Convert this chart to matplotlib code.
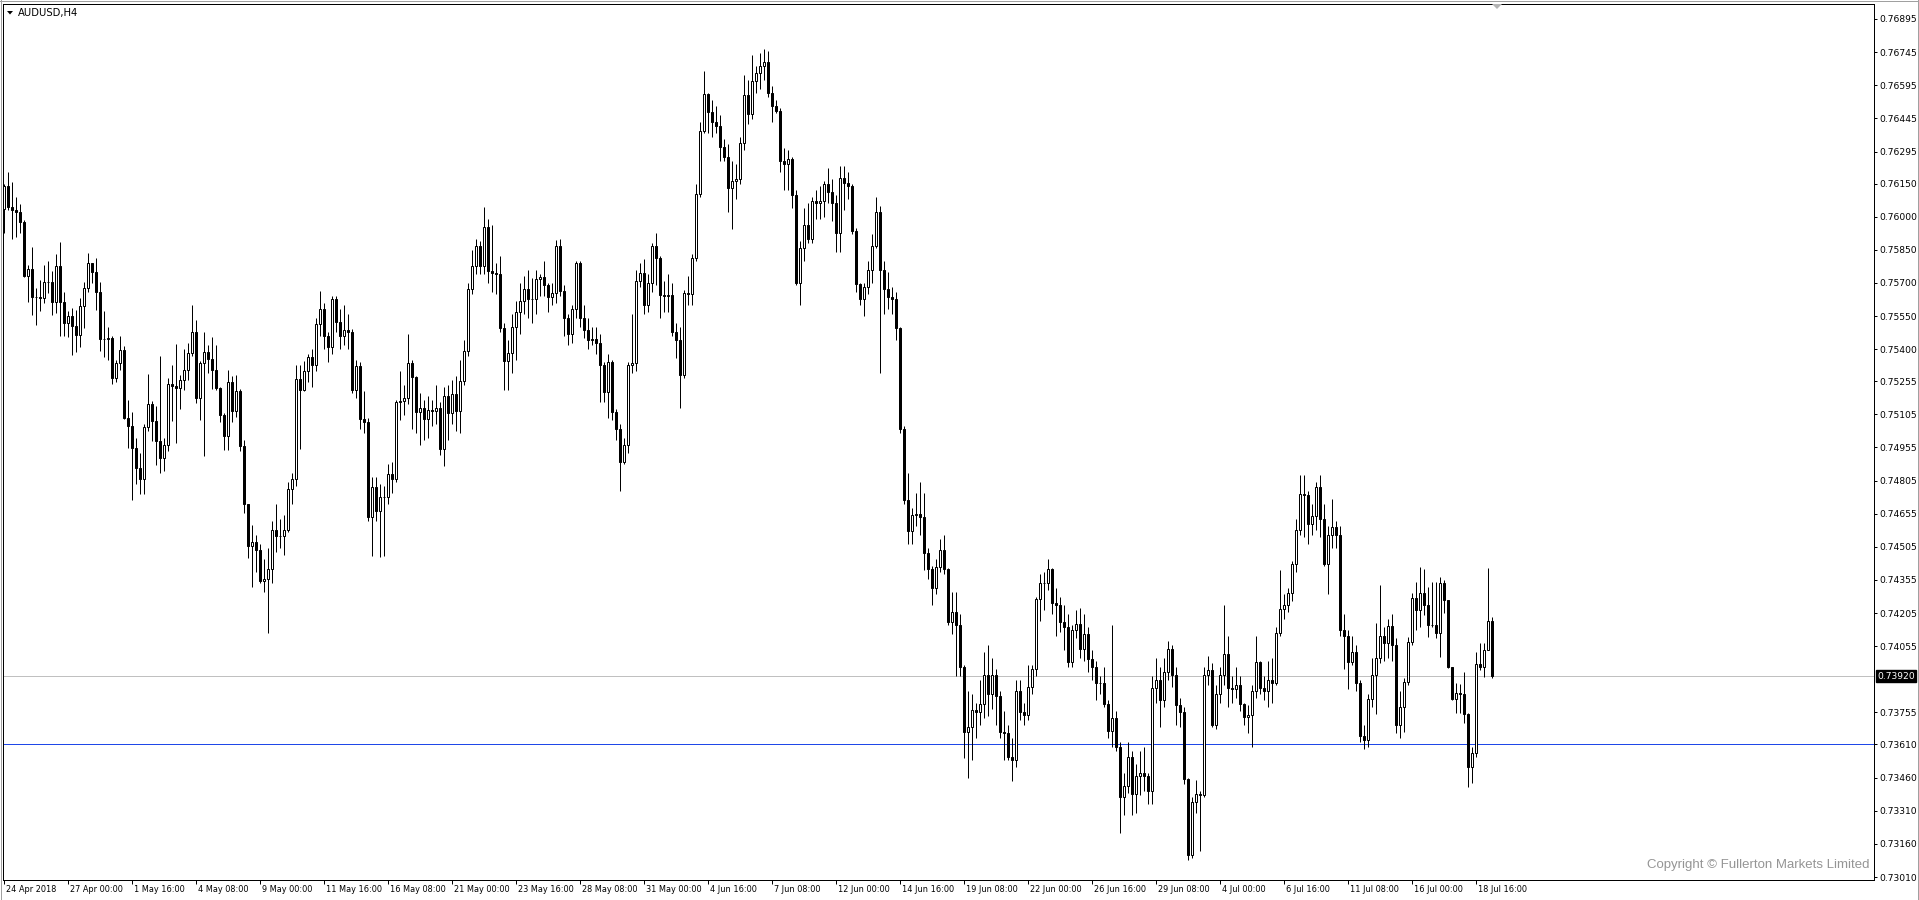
import matplotlib
matplotlib.use("Agg")
import matplotlib.pyplot as plt
from matplotlib.patches import Polygon
import matplotlib.transforms as mtransforms
from matplotlib.lines import Line2D

# ---------------- data (prices in points, 1 point = 0.00001) ----------------
symbol_title = "AUDUSD,H4"
copyright_text = "Copyright \u00a9 Fullerton Markets Limited"

opens = [
    76035, 76139, 76044, 76030, 76021, 75976, 75731, 75763, 75636, 75638,
    75630, 75704, 75702, 75614, 75777, 75614, 75518, 75550, 75505, 75464,
    75595, 75677, 75790, 75750, 75659, 75446, 75448, 75451, 75270, 75337,
    75396, 75088, 75052, 74952, 74862, 74812, 75047, 75150, 75075, 74984,
    74906, 74966, 75243, 75234, 75225, 75261, 75306, 75383, 75478, 75180,
    75337, 75387, 75356, 75306, 75225, 75102, 75007, 75252, 75120, 75211,
    74962, 74700, 74509, 74527, 74490, 74351, 74360, 74404, 74580, 74554,
    74556, 74580, 74765, 74810, 75267, 75214, 75302, 75364, 75330, 75514,
    75584, 75461, 75408, 75628, 75522, 75461, 75487, 75478, 75214, 75324,
    75082, 75070, 74642, 74777, 74668, 74730, 74730, 74835, 74810, 75161,
    75165, 75180, 75337, 75276, 75117, 75135, 75082, 75126, 75120, 75135,
    74950, 75190, 75110, 75196, 75120, 75258, 75390, 75672, 75778, 75866,
    75778, 75954, 75752, 75743, 75740, 75496, 75346, 75381, 75500, 75567,
    75620, 75672, 75628, 75625, 75716, 75725, 75690, 75637, 75655, 75866,
    75664, 75540, 75470, 75584, 75792, 75540, 75487, 75443, 75448, 75430,
    75330, 75205, 75340, 75117, 75038, 74888, 74967, 75329, 75337, 75708,
    75743, 75602, 75700, 75866, 75813, 75646, 75640, 75646, 75478, 75443,
    75284, 75655, 75650, 75813, 76104, 76386, 76557, 76474, 76430, 76412,
    76315, 76271, 76130, 76160, 76170, 76333, 76553, 76465, 76615, 76650,
    76680, 76700, 76560, 76500, 76480, 76250, 76240, 76261, 76100, 75700,
    75860, 75960, 75900, 76070, 76060, 76070, 76150, 76110, 76060, 75925,
    76177, 76153, 76141, 75937, 75693, 75625, 75680, 75757, 75865, 76021,
    75757, 75674, 75637, 75626, 75494, 75038, 74719, 74576, 74650, 74655,
    74640, 74475, 74403, 74319, 74415, 74490, 74403, 74163, 74212, 74150,
    73960, 73665, 73690, 73768, 73756, 73792, 73924, 73840, 73924, 73830,
    73665, 73660, 73552, 73540, 73852, 73756, 73744, 73870, 73950, 74271,
    74343, 74340, 74403, 74250, 74240, 74163, 74140, 73984, 74127, 74155,
    74044, 74110, 73996, 73960, 73888, 73890, 73792, 73672, 73732, 73600,
    73372, 73420, 73552, 73384, 73468, 73480, 73468, 73400, 73864, 73900,
    73810, 73936, 74044, 73924, 73790, 73756, 73456, 73110, 73348, 73384,
    73380, 73924, 73948, 73696, 73840, 73924, 74020, 73864, 73860, 73880,
    73795, 73735, 73744, 73850, 73984, 73864, 73850, 73900, 73890, 74115,
    74223, 74240, 74295, 74427, 74583, 74743, 74740, 74607, 74643, 74775,
    74630, 74427, 74560, 74595, 74560, 74127, 74100, 73984, 74030, 73888,
    73648, 73630, 73816, 73924, 74000, 74103, 74070, 74145, 74060, 73700,
    73781, 73894, 74075, 74273, 74219, 74296, 74242, 74151, 74151, 74115,
    74341, 74264, 73961, 73816, 73843, 73839, 73748, 73508, 73572, 73974,
    73961, 74038, 74169,
]

closes = [
    76139, 76044, 76030, 76021, 75976, 75731, 75763, 75636, 75638, 75630,
    75704, 75702, 75614, 75777, 75614, 75518, 75550, 75505, 75464, 75595,
    75677, 75790, 75750, 75659, 75446, 75448, 75451, 75270, 75337, 75396,
    75088, 75052, 74952, 74862, 74812, 75047, 75150, 75075, 74984, 74906,
    74966, 75243, 75234, 75225, 75261, 75306, 75383, 75478, 75180, 75337,
    75387, 75356, 75306, 75225, 75102, 75007, 75252, 75120, 75211, 74962,
    74700, 74509, 74527, 74490, 74351, 74360, 74404, 74580, 74554, 74556,
    74580, 74765, 74810, 75267, 75214, 75302, 75364, 75330, 75514, 75584,
    75461, 75408, 75628, 75522, 75461, 75487, 75478, 75214, 75324, 75082,
    75070, 74642, 74777, 74668, 74730, 74730, 74835, 74810, 75161, 75165,
    75180, 75337, 75276, 75117, 75135, 75082, 75126, 75120, 75135, 74950,
    75190, 75110, 75196, 75120, 75258, 75390, 75672, 75778, 75866, 75778,
    75954, 75752, 75743, 75740, 75496, 75346, 75381, 75500, 75567, 75620,
    75672, 75628, 75625, 75716, 75725, 75690, 75637, 75655, 75866, 75664,
    75540, 75470, 75584, 75792, 75540, 75487, 75443, 75448, 75430, 75330,
    75205, 75340, 75117, 75038, 74888, 74967, 75329, 75337, 75708, 75743,
    75602, 75700, 75866, 75813, 75646, 75640, 75646, 75478, 75443, 75284,
    75655, 75650, 75813, 76104, 76386, 76557, 76474, 76430, 76412, 76315,
    76271, 76130, 76160, 76170, 76333, 76553, 76465, 76615, 76650, 76680,
    76700, 76560, 76500, 76480, 76250, 76240, 76261, 76100, 75700, 75860,
    75960, 75900, 76070, 76060, 76070, 76150, 76110, 76060, 75925, 76177,
    76153, 76141, 75937, 75693, 75625, 75680, 75757, 75865, 76021, 75757,
    75674, 75637, 75626, 75494, 75038, 74719, 74576, 74650, 74655, 74640,
    74475, 74403, 74319, 74415, 74490, 74403, 74163, 74212, 74150, 73960,
    73665, 73690, 73768, 73756, 73792, 73924, 73840, 73924, 73830, 73665,
    73660, 73552, 73540, 73852, 73756, 73744, 73870, 73950, 74271, 74343,
    74340, 74403, 74250, 74240, 74163, 74140, 73984, 74127, 74155, 74044,
    74110, 73996, 73960, 73888, 73890, 73792, 73672, 73732, 73600, 73372,
    73420, 73552, 73384, 73468, 73480, 73468, 73400, 73864, 73900, 73810,
    73936, 74044, 73924, 73790, 73756, 73456, 73110, 73348, 73384, 73380,
    73924, 73948, 73696, 73840, 73924, 74020, 73864, 73860, 73880, 73795,
    73735, 73744, 73850, 73984, 73864, 73850, 73900, 73890, 74115, 74223,
    74240, 74295, 74427, 74583, 74743, 74740, 74607, 74643, 74775, 74630,
    74427, 74560, 74595, 74560, 74127, 74100, 73984, 74030, 73888, 73648,
    73630, 73816, 73924, 74000, 74103, 74070, 74145, 74060, 73700, 73781,
    73894, 74075, 74273, 74219, 74296, 74242, 74151, 74151, 74115, 74341,
    74264, 73961, 73816, 73843, 73839, 73748, 73508, 73572, 73974, 73961,
    74038, 74169, 73920,
]

highs = [
    76150, 76202, 76157, 76089, 76057, 75985, 75781, 75863, 75677, 75713,
    75781, 75799, 75754, 75831, 75885, 75659, 75573, 75586, 75577, 75632,
    75704, 75836, 75790, 75813, 75704, 75573, 75500, 75460, 75350, 75460,
    75414, 75170, 75115, 75000, 74930, 75060, 75288, 75165, 75144, 75369,
    75000, 75270, 75328, 75424, 75284, 75400, 75428, 75602, 75532, 75345,
    75478, 75420, 75455, 75419, 75230, 75110, 75306, 75279, 75284, 75220,
    74990, 74700, 74606, 74560, 74520, 74450, 74500, 74620, 74700, 74630,
    74650, 74800, 74840, 75330, 75328, 75346, 75380, 75400, 75540, 75664,
    75610, 75480, 75640, 75640, 75580, 75600, 75560, 75490, 75350, 75340,
    75210, 75090, 74820, 74820, 74790, 74780, 74880, 74890, 75170, 75300,
    75240, 75470, 75350, 75280, 75200, 75170, 75190, 75170, 75240, 75160,
    75230, 75240, 75260, 75280, 75350, 75440, 75700, 75850, 75900, 75890,
    76042, 75990, 75960, 75790, 75822, 75520, 75440, 75560, 75620, 75700,
    75730, 75760, 75720, 75760, 75740, 75800, 75700, 75700, 75893, 75900,
    75690, 75560, 75600, 75800, 75800, 75600, 75540, 75500, 75500, 75470,
    75340, 75380, 75350, 75130, 75060, 75000, 75340, 75560, 75760, 75790,
    75810, 75740, 75880, 75928, 75820, 75710, 75740, 75700, 75520, 75500,
    75670, 75730, 75830, 76150, 76430, 76659, 76560, 76530, 76500, 76460,
    76350, 76330, 76250, 76240, 76360, 76640, 76620, 76730, 76680, 76740,
    76760, 76750, 76590, 76530, 76490, 76310, 76300, 76270, 76120, 75890,
    76040, 76060, 76090, 76120, 76140, 76160, 76220, 76170, 76100, 76230,
    76230, 76200, 76150, 75950, 75700, 75700, 75800, 75920, 76090, 76050,
    75800, 75750, 75680, 75660, 75500, 75050, 74840, 74680, 74750, 74800,
    74750, 74500, 74420, 74450, 74540, 74560, 74410, 74300, 74300, 74200,
    73970, 73850, 73840, 73800, 73900, 74030, 74060, 74000, 73950, 73850,
    73760, 73700, 73640, 73900, 73900, 73800, 73970, 73970, 74280, 74380,
    74390, 74450, 74410, 74320, 74280, 74240, 74200, 74150, 74220, 74230,
    74200, 74140, 74040, 73990, 73920, 73960, 73810, 74150, 73760, 73620,
    73480, 73620, 73580, 73520, 73580, 73600, 73480, 73920, 74000, 73960,
    74000, 74080, 74060, 73960, 73820, 73780, 73460, 73370, 73450, 73400,
    73960, 74010, 73980, 73880, 73960, 74240, 74100, 73920, 73960, 73920,
    73800, 73790, 73880, 74100, 73990, 73920, 73990, 74000, 74140, 74400,
    74290, 74320, 74440, 74630, 74830, 74830, 74760, 74700, 74800, 74830,
    74700, 74600, 74720, 74620, 74600, 74200, 74130, 74100, 74060, 73900,
    73700, 73840, 74000, 74160, 74330, 74140, 74180, 74200, 74090, 73850,
    73911, 74097, 74296, 74346, 74414, 74405, 74323, 74346, 74346, 74368,
    74355, 74264, 73961, 73888, 73884, 73938, 73753, 73599, 74029, 74070,
    74070, 74409, 74187,
]

lows = [
    75926, 76030, 75899, 75908, 75926, 75727, 75614, 75555, 75509, 75573,
    75609, 75654, 75555, 75564, 75460, 75460, 75455, 75374, 75387, 75410,
    75496, 75659, 75700, 75577, 75392, 75365, 75351, 75243, 75250, 75306,
    75085, 74952, 74716, 74790, 74745, 74745, 75030, 74983, 74877, 74840,
    74850, 74940, 75075, 74975, 75130, 75215, 75261, 75370, 75157, 75080,
    74915, 75290, 75220, 75215, 75070, 74943, 74943, 75070, 75094, 74940,
    74660, 74456, 74324, 74390, 74340, 74300, 74113, 74340, 74480, 74500,
    74470, 74570, 74700, 74780, 74950, 75210, 75250, 75230, 75300, 75460,
    75400, 75340, 75380, 75480, 75400, 75420, 75400, 75200, 75180, 75040,
    75020, 74620, 74465, 74620, 74460, 74465, 74700, 74750, 74800, 75080,
    75100, 75150, 75038, 75020, 74968, 74990, 75000, 75050, 75060, 74920,
    74870, 74990, 75060, 75030, 75020, 75240, 75370, 75650, 75740, 75740,
    75740, 75700, 75660, 75650, 75480, 75214, 75215, 75290, 75350, 75470,
    75560, 75540, 75520, 75560, 75640, 75640, 75570, 75600, 75610, 75640,
    75460, 75420, 75430, 75540, 75500, 75450, 75400, 75420, 75380, 75160,
    75160, 75090, 75080, 74990, 74756, 74880, 74930, 75290, 75300, 75680,
    75560, 75570, 75660, 75690, 75540, 75570, 75570, 75460, 75360, 75134,
    75270, 75600, 75600, 75800, 76090, 76380, 76380, 76360, 76380, 76250,
    76250, 76020, 75946, 76080, 76150, 76300, 76420, 76440, 76560, 76580,
    76620, 76540, 76430, 76470, 76200, 76120, 76120, 76040, 75690, 75600,
    75800, 75880, 75880, 75990, 75990, 76000, 76060, 75980, 75840, 75840,
    76030, 76080, 75920, 75660, 75600, 75550, 75650, 75700, 75860, 75290,
    75560, 75580, 75560, 75440, 75020, 74700, 74520, 74520, 74600, 74560,
    74400, 74360, 74240, 74290, 74390, 74380, 74150, 74110, 73920, 73920,
    73550, 73460, 73540, 73640, 73700, 73730, 73740, 73770, 73700, 73640,
    73540, 73540, 73444, 73510, 73720, 73700, 73720, 73840, 73920, 74170,
    74220, 74310, 74200, 74100, 74120, 74040, 73960, 73960, 74090, 74000,
    73990, 73940, 73900, 73810, 73840, 73780, 73640, 73600, 73580, 73210,
    73290, 73390, 73290, 73300, 73380, 73400, 73340, 73340, 73800, 73690,
    73780, 73900, 73870, 73700, 73690, 73430, 73085, 73095, 73300, 73130,
    73370, 73880, 73690, 73680, 73800, 73880, 73780, 73800, 73820, 73760,
    73700, 73660, 73600, 73820, 73840, 73810, 73780, 73800, 73880, 74100,
    74180, 74210, 74260, 74390, 74560, 74550, 74520, 74560, 74580, 74550,
    74420, 74290, 74500, 74500, 74100, 73950, 73860, 73970, 73850, 73620,
    73590, 73600, 73780, 73750, 73980, 73990, 74000, 73990, 73660, 73640,
    73667, 73880, 74060, 74128, 74142, 74196, 74097, 74140, 74092, 74006,
    74206, 73956, 73810, 73753, 73753, 73707, 73418, 73436, 73553, 73947,
    73916, 74038, 73911,
]

# price-axis labels (as printed on the right scale)
y_tick_values = [0.76895, 0.76745, 0.76595, 0.76445, 0.76295, 0.76150, 0.76000,
                 0.75850, 0.75700, 0.75550, 0.75400, 0.75255, 0.75105, 0.74955,
                 0.74805, 0.74655, 0.74505, 0.74355, 0.74205, 0.74055, 0.73755,
                 0.73610, 0.73460, 0.73310, 0.73160, 0.73010]
bid_price = 0.73920
level_line = 0.73610

# time-axis labels, one every 16 H4 bars
x_tick_bars = [0, 16, 32, 48, 64, 80, 96, 112, 128, 144, 160, 176, 192, 208,
               224, 240, 256, 272, 288, 304, 320, 336, 352, 368]
x_tick_labels = ["24 Apr 2018", "27 Apr 00:00", "1 May 16:00", "4 May 08:00",
                 "9 May 00:00", "11 May 16:00", "16 May 08:00", "21 May 00:00",
                 "23 May 16:00", "28 May 08:00", "31 May 00:00", "4 Jun 16:00",
                 "7 Jun 08:00", "12 Jun 00:00", "14 Jun 16:00", "19 Jun 08:00",
                 "22 Jun 00:00", "26 Jun 16:00", "29 Jun 08:00", "4 Jul 00:00",
                 "6 Jul 16:00", "11 Jul 08:00", "16 Jul 00:00", "18 Jul 16:00"]

assert len(opens) == len(closes) == len(highs) == len(lows)

# ---------------- layout ----------------
W, H, DPI = 1919, 900, 100
PX = 72.0 / DPI  # one pixel in points
fig = plt.figure(figsize=(W / DPI, H / DPI), dpi=DPI)
fig.patch.set_facecolor("white")

ax_l, ax_r, ax_t, ax_b = 3, 1874, 4, 880
ax = fig.add_axes([ax_l / W, (H - ax_b) / H, (ax_r - ax_l) / W, (ax_b - ax_t) / H])
ax.set_facecolor("white")

# scale: 4 px per bar, ~22085 px per 1.0 price unit
ppu = 22085.0
ax.set_xlim((ax_l - 4) / 4.0, (ax_r - 4) / 4.0)
ax.set_ylim(0.76895 - (ax_b - 19) / ppu, 0.76895 + (19 - ax_t) / ppu)

# ---------------- candles ----------------
n = len(closes)
xs = list(range(n))
O = [v / 1e5 for v in opens]
C = [v / 1e5 for v in closes]
Hh = [v / 1e5 for v in highs]
Ll = [v / 1e5 for v in lows]

ax.vlines(xs, Ll, Hh, colors="black", linewidth=PX, zorder=2, snap=True)

bottoms = [min(o, c) for o, c in zip(O, C)]
heights = [abs(c - o) for o, c in zip(O, C)]
faces = ["white" if c >= o else "black" for o, c in zip(O, C)]
ax.bar(xs, heights, bottom=bottoms, width=0.5, color=faces, edgecolor="black",
       linewidth=PX, zorder=3, snap=True)

# horizontal lines
ax.axhline(bid_price, color="#c0c0c0", linewidth=PX, zorder=1)
ax.axhline(level_line, color="#1f47e8", linewidth=PX, zorder=1)

# ---------------- axes styling ----------------
for s in ax.spines.values():
    s.set_color("black")
    s.set_linewidth(PX)

ax.yaxis.tick_right()
ax.set_yticks(y_tick_values)
ax.set_yticklabels([f"{v:.5f}" for v in y_tick_values])
ax.tick_params(axis="y", direction="out", length=3 * PX, width=PX, pad=1.5,
               labelsize=6.6, colors="black", right=True, left=False,
               labelright=True, labelleft=False)

ax.set_xticks(x_tick_bars)
ax.set_xticklabels(x_tick_labels)
ax.tick_params(axis="x", direction="out", length=4 * PX, width=PX, pad=1.0,
               labelsize=5.9, colors="black")
offset = mtransforms.ScaledTranslation(2 / DPI, 0, fig.dpi_scale_trans)
for lbl in ax.get_xticklabels():
    lbl.set_horizontalalignment("left")
    lbl.set_transform(lbl.get_transform() + offset)

# current bid price box on the scale
trans = mtransforms.blended_transform_factory(ax.transAxes, ax.transData)
ax.text(1.0, bid_price, "0.73920",
        transform=trans + mtransforms.ScaledTranslation(3 / DPI, 0, fig.dpi_scale_trans),
        ha="left", va="center", fontsize=6.6, color="white", zorder=10, clip_on=False,
        bbox=dict(boxstyle="square,pad=0.12", facecolor="black", edgecolor="black"))

# ---------------- decorations ----------------
def fx(px):
    return px / W


def fy(py):
    return 1 - py / H

# outer grey frame lines
fig.add_artist(Line2D([0, 1], [fy(0.5), fy(0.5)], transform=fig.transFigure, color="#a0a0a0", linewidth=PX))
fig.add_artist(Line2D([fx(0.5), fx(0.5)], [0, 1], transform=fig.transFigure, color="#a0a0a0", linewidth=PX))
fig.add_artist(Line2D([fx(1917.5), fx(1917.5)], [0, 1], transform=fig.transFigure, color="#a0a0a0", linewidth=PX))

# title with small dropdown triangle
fig.add_artist(Polygon([[fx(7), fy(11)], [fx(13), fy(11)], [fx(10), fy(14.5)]], closed=True,
                       transform=fig.transFigure, facecolor="black", edgecolor="black", linewidth=0))
fig.text(fx(18), fy(13), symbol_title, fontsize=7.2, color="black", ha="left", va="center",
         family="DejaVu Sans")

# chart shift marker
fig.add_artist(Polygon([[fx(1492), fy(4)], [fx(1502), fy(4)], [fx(1497), fy(9)]], closed=True,
                       transform=fig.transFigure, facecolor="#b4b4b4", edgecolor="#b4b4b4", linewidth=0))

# copyright
fig.text(fx(1869), fy(865), copyright_text, fontsize=9.5, color="#959595", ha="right",
         va="center", family="Liberation Sans")

fig.savefig("out.png", dpi=DPI, facecolor="white")
